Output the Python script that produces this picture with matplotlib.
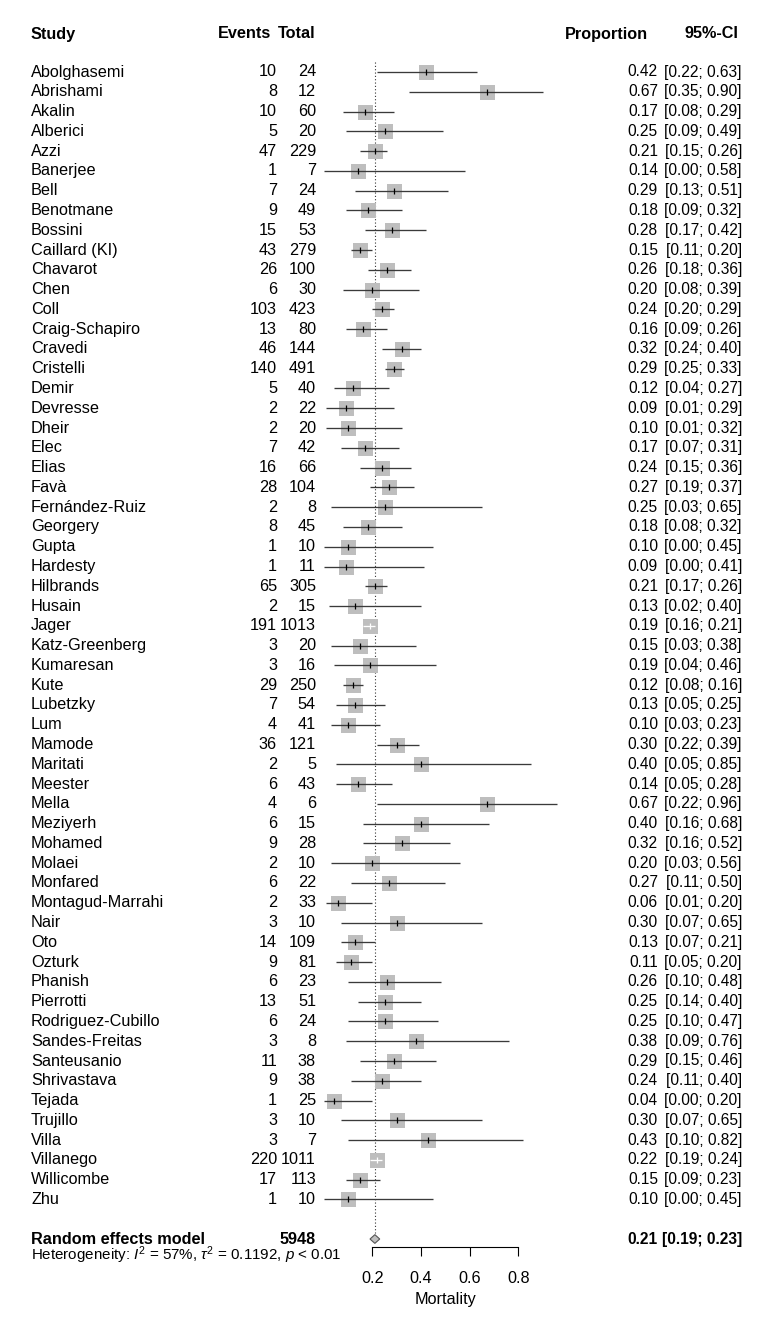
import matplotlib
matplotlib.use("Agg")
import matplotlib.pyplot as plt
from matplotlib.transforms import blended_transform_factory
from matplotlib.patches import Polygon

plt.rcParams['font.family'] = ['Liberation Sans', 'DejaVu Sans']
plt.rcParams['mathtext.fontset'] = 'custom'
plt.rcParams['mathtext.rm'] = 'Liberation Sans'
plt.rcParams['mathtext.it'] = 'Liberation Sans:italic'
plt.rcParams['mathtext.bf'] = 'Liberation Sans:bold'

studies = ["Abolghasemi", "Abrishami", "Akalin", "Alberici", "Azzi", "Banerjee", "Bell",
           "Benotmane", "Bossini", "Caillard (KI)", "Chavarot", "Chen", "Coll", "Craig-Schapiro",
           "Cravedi", "Cristelli", "Demir", "Devresse", "Dheir", "Elec", "Elias", "Favà",
           "Fernández-Ruiz", "Georgery", "Gupta", "Hardesty", "Hilbrands", "Husain", "Jager",
           "Katz-Greenberg", "Kumaresan", "Kute", "Lubetzky", "Lum", "Mamode", "Maritati",
           "Meester", "Mella", "Meziyerh", "Mohamed", "Molaei", "Monfared", "Montagud-Marrahi",
           "Nair", "Oto", "Ozturk", "Phanish", "Pierrotti", "Rodriguez-Cubillo", "Sandes-Freitas",
           "Santeusanio", "Shrivastava", "Tejada", "Trujillo", "Villa", "Villanego", "Willicombe", "Zhu"]
events = [10, 8, 10, 5, 47, 1, 7, 9, 15, 43, 26, 6, 103, 13, 46, 140, 5, 2, 2, 7, 16, 28, 2, 8,
          1, 1, 65, 2, 191, 3, 3, 29, 7, 4, 36, 2, 6, 4, 6, 9, 2, 6, 2, 3, 14, 9, 6, 13, 6, 3,
          11, 9, 1, 3, 3, 220, 17, 1]
totals = [24, 12, 60, 20, 229, 7, 24, 49, 53, 279, 100, 30, 423, 80, 144, 491, 40, 22, 20, 42,
          66, 104, 8, 45, 10, 11, 305, 15, 1013, 20, 16, 250, 54, 41, 121, 5, 43, 6, 15, 28, 10,
          22, 33, 10, 109, 81, 23, 51, 24, 8, 38, 38, 25, 10, 7, 1011, 113, 10]
proportion = [0.42, 0.67, 0.17, 0.25, 0.21, 0.14, 0.29, 0.18, 0.28, 0.15, 0.26, 0.20, 0.24, 0.16,
              0.32, 0.29, 0.12, 0.09, 0.10, 0.17, 0.24, 0.27, 0.25, 0.18, 0.10, 0.09, 0.21, 0.13,
              0.19, 0.15, 0.19, 0.12, 0.13, 0.10, 0.30, 0.40, 0.14, 0.67, 0.40, 0.32, 0.20, 0.27,
              0.06, 0.30, 0.13, 0.11, 0.26, 0.25, 0.25, 0.38, 0.29, 0.24, 0.04, 0.30, 0.43, 0.22,
              0.15, 0.10]
ci_lower = [0.22, 0.35, 0.08, 0.09, 0.15, 0.00, 0.13, 0.09, 0.17, 0.11, 0.18, 0.08, 0.20, 0.09,
            0.24, 0.25, 0.04, 0.01, 0.01, 0.07, 0.15, 0.19, 0.03, 0.08, 0.00, 0.00, 0.17, 0.02,
            0.16, 0.03, 0.04, 0.08, 0.05, 0.03, 0.22, 0.05, 0.05, 0.22, 0.16, 0.16, 0.03, 0.11,
            0.01, 0.07, 0.07, 0.05, 0.10, 0.14, 0.10, 0.09, 0.15, 0.11, 0.00, 0.07, 0.10, 0.19,
            0.09, 0.00]
ci_upper = [0.63, 0.90, 0.29, 0.49, 0.26, 0.58, 0.51, 0.32, 0.42, 0.20, 0.36, 0.39, 0.29, 0.26,
            0.40, 0.33, 0.27, 0.29, 0.32, 0.31, 0.36, 0.37, 0.65, 0.32, 0.45, 0.41, 0.26, 0.40,
            0.21, 0.38, 0.46, 0.16, 0.25, 0.23, 0.39, 0.85, 0.28, 0.96, 0.68, 0.52, 0.56, 0.50,
            0.20, 0.65, 0.21, 0.20, 0.48, 0.40, 0.47, 0.76, 0.46, 0.40, 0.20, 0.65, 0.82, 0.24,
            0.23, 0.45]

pooled_label = "Random effects model"
pooled_total = 5948
pooled_est, pooled_lo, pooled_hi = 0.21, 0.19, 0.23
het_text = r"Heterogeneity: $I^2$ = 57%, $\tau^2$ = 0.1192, $p$ < 0.01"
xticks = [0.2, 0.4, 0.6, 0.8]
xlabel = "Mortality"

W, H = 765, 1326
fig = plt.figure(figsize=(W / 100, H / 100), dpi=100)
fig.patch.set_facecolor("white")

# forest axes: x 0..1 maps to px 323.8..567
x0_px, x1_px = 323.8, 567.0
row0_px, pitch = 72.0, 19.78
ax = fig.add_axes([x0_px / W, 0, (x1_px - x0_px) / W, 1])
ax.set_xlim(0, 1)
ax.set_ylim((H - row0_px) / pitch, -row0_px / pitch)
ax.patch.set_alpha(0)

def row_of(px):
    return (px - row0_px) / pitch

n = len(studies)
rows = list(range(n))
pooled_row = n + 1

fs = 11.7
fs_r = 11.2
tr = blended_transform_factory(fig.transFigure, ax.transData)

def fx(px):
    return px / W

# headers
hdr_row = row_of(34)
ax.text(fx(31), hdr_row, "Study", transform=tr, ha="left", va="center", fontsize=fs, fontweight="bold")
ax.text(fx(271), hdr_row, "Events", transform=tr, ha="right", va="center", fontsize=fs, fontweight="bold")
ax.text(fx(316), hdr_row, "Total", transform=tr, ha="right", va="center", fontsize=fs, fontweight="bold")
ax.text(fx(648), hdr_row, "Proportion", transform=tr, ha="right", va="center", fontsize=fs, fontweight="bold")
ax.text(fx(738), hdr_row, "95%-CI", transform=tr, ha="right", va="center", fontsize=fs, fontweight="bold")

# reference dotted line at pooled estimate
ax.plot([pooled_est, pooled_est], [-0.5, pooled_row - 0.3], color="#333333", lw=0.8,
        linestyle=(0, (1, 2)), zorder=1)

sq_half = 7.5 / (x1_px - x0_px)
for i in rows:
    y = rows[i]
    p, lo, hi = proportion[i], ci_lower[i], ci_upper[i]
    inside = (lo > p - sq_half) and (hi < p + sq_half)
    lc = "white" if inside else "#3a3a3a"
    ax.plot([p], [y], marker="s", markersize=10.8, color="#bebebe", markeredgewidth=0, zorder=2)
    ax.plot([lo, hi], [y, y], color=lc, lw=0.95, zorder=3, solid_capstyle="butt")
    ax.plot([p], [y], marker="|", markersize=4.5, color=("white" if inside else "black"),
            markeredgewidth=0.9, zorder=4)
    ax.text(fx(31), y, studies[i], transform=tr, ha="left", va="center", fontsize=fs)
    ax.text(fx(277), y, str(events[i]), transform=tr, ha="right", va="center", fontsize=fs)
    ax.text(fx(316), y, str(totals[i]), transform=tr, ha="right", va="center", fontsize=fs)
    ax.text(fx(658), y, f"{p:.2f}", transform=tr, ha="right", va="center", fontsize=fs_r)
    ax.text(fx(742), y, f"[{lo:.2f}; {hi:.2f}]", transform=tr, ha="right", va="center", fontsize=fs_r)

# pooled diamond
dh = 0.22
diamond = Polygon([[pooled_lo, pooled_row], [pooled_est, pooled_row - dh],
                   [pooled_hi, pooled_row], [pooled_est, pooled_row + dh]],
                  closed=True, facecolor="#bebebe", edgecolor="#555555", lw=0.8, zorder=3)
ax.add_patch(diamond)
ax.text(fx(31), pooled_row, pooled_label, transform=tr, ha="left", va="center", fontsize=fs, fontweight="bold")
ax.text(fx(316), pooled_row, str(pooled_total), transform=tr, ha="right", va="center", fontsize=fs, fontweight="bold")
ax.text(fx(658), pooled_row, f"{pooled_est:.2f}", transform=tr, ha="right", va="center", fontsize=fs_r, fontweight="bold")
ax.text(fx(742), pooled_row, f"[{pooled_lo:.2f}; {pooled_hi:.2f}]", transform=tr, ha="right", va="center",
        fontsize=fs_r, fontweight="bold")
ax.text(fx(31), row_of(1255), het_text, transform=tr, ha="left", va="center", fontsize=10.9)

# axis
for s in ["left", "right", "top"]:
    ax.spines[s].set_visible(False)
ax.spines["bottom"].set_position(("data", row_of(1247)))
ax.spines["bottom"].set_bounds(xticks[0], xticks[-1])
ax.spines["bottom"].set_linewidth(0.8)
ax.set_yticks([])
ax.set_xticks(xticks)
ax.set_xticklabels([f"{t:.1f}" for t in xticks])
ax.tick_params(axis="x", direction="out", length=6.5, width=0.8, pad=11, labelsize=fs)
ax.set_xlabel(xlabel, fontsize=fs, labelpad=4)

fig.savefig("out.png", dpi=100, facecolor="white")
